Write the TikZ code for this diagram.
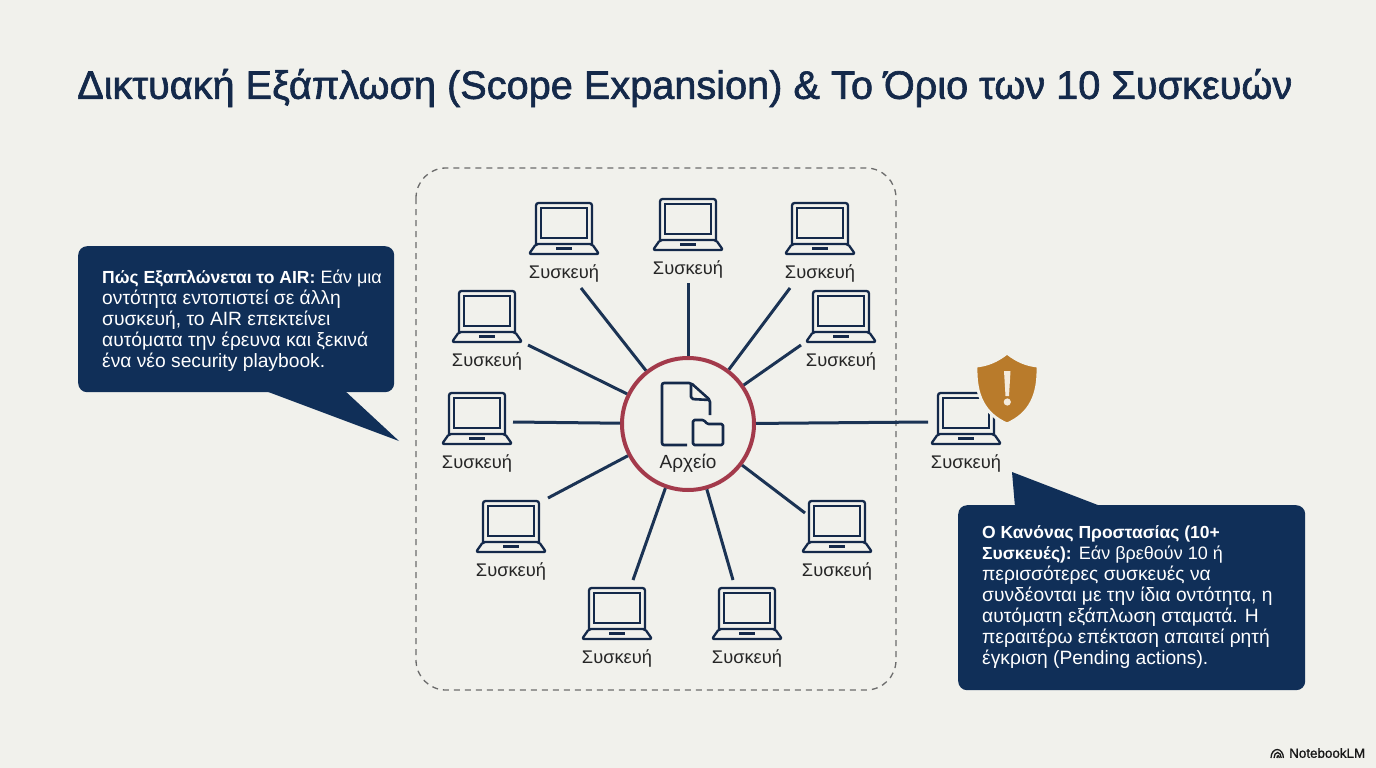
\documentclass[tikz,border=0pt]{standalone}
\usepackage{fontspec}
\usepackage{xcolor}
\setmainfont{Liberation Sans}
\newfontfamily\titlefont[FakeBold=1.6]{Liberation Sans}
\newfontfamily\brandfont[FakeBold=1.2]{Liberation Sans}
\usetikzlibrary{arrows.meta,positioning,calc}
\definecolor{paper}{HTML}{F1F1EC}
\definecolor{navy}{HTML}{102F58}
\definecolor{inkblue}{HTML}{14294A}
\definecolor{spokeblue}{HTML}{1B3354}
\definecolor{ringred}{HTML}{A33A4B}
\definecolor{amber}{HTML}{B97B2B}
\definecolor{cream}{HTML}{F4EBDC}
\newcommand{\leadin}[1]{{\fontsize{17.5}{21}\selectfont\bfseries #1}}
\newcommand{\leadrest}[1]{{\fontsize{18}{21}\selectfont #1}}
\tikzset{
  laptop/.pic={
    \draw[line width=2.3pt,inkblue,rounded corners=2.5pt] (-28,14) -- (-28,-27) -- (28,-27) -- (28,14);
    \draw[line width=2.1pt,inkblue] (-23,8) rectangle (23,-22);
    \draw[line width=2.3pt,inkblue,line join=round,rounded corners=2pt] (-28,14) -- (28,14) -- (35,24) -- (-35,24) -- cycle;
    \draw[line width=2.1pt,inkblue] (-8,18.5) -- (8,18.5);
  }
}
\begin{document}
\begin{tikzpicture}[x=1pt,y=-1pt,>=Latex]
  \tikzstyle{devlabel}=[inner sep=0pt,text=black!85,font=\fontsize{18.3}{20}\selectfont]
  \tikzstyle{spoke}=[line width=3pt,spokeblue]
  \tikzstyle{callout}=[fill=navy,rounded corners=9pt,inner sep=0pt,anchor=north west]
  \tikzstyle{callouttext}=[text=white,align=left,anchor=north west,inner sep=0pt,font=\fontsize{19.25}{21}\selectfont]
  \useasboundingbox[fill=paper] (0,0) rectangle (1376,768);
  \node[anchor=west,inner sep=0pt,text=inkblue,font=\titlefont\fontsize{39.7}{42}\selectfont] (title) at (77,88) {Δικτυακή Εξάπλωση (Scope Expansion) \& Το Όριο των 10 Συσκευών};
  \draw[gray!85!black,line width=1.3pt,dash pattern=on 6pt off 5pt,rounded corners=30pt] (416,168) rectangle (896,690);
  \node[circle,draw=ringred,line width=4pt,minimum size=132pt,inner sep=0pt] (file) at (688,424) {};
  \foreach \id/\x/\y/\ex/\ey in {1/564/230/581/288,2/688/226/688/283,3/820/230/790/288,4/487/318/528/345,5/841/318/801/345,6/477/420/513/422,7/966/420/928/422,8/511/528/548/498,9/837/528/805/513,10/617/615/633/580,11/747/615/733/580}{
    \pic at (\x,\y) {laptop};
    \node[devlabel] (dev\id) at ($(\x,\y)+(0,43)$) {Συσκευή};
    \coordinate (end\id) at (\ex,\ey);
    \draw[spoke] (end\id) -- (file);
  }
  \draw[line width=2.6pt,inkblue,line join=round,rounded corners=2pt] (687,445) -- (662,445) -- (662,383) -- (691,383) -- (710,400) -- (710,415);
  \draw[line width=2.6pt,inkblue,line join=round,rounded corners=2pt] (691,383) -- (691,399) -- (710,400);
  \draw[line width=2.6pt,inkblue,line join=round,rounded corners=1.5pt] (693,445) -- (693,420) -- (704,420) -- (707,424) -- (723,424) -- (723,445) -- cycle;
  \node[devlabel,font=\fontsize{19}{21}\selectfont] (filelabel) at (688,463) {Αρχείο};
  \fill[amber,draw=paper,line width=3pt] (1007,353) .. controls (1017,361) and (1027,365) .. (1038,366) .. controls (1039,395) and (1030,414) .. (1007,424) .. controls (984,414) and (975,395) .. (976,366) .. controls (987,365) and (997,361) .. (1007,353) -- cycle;
  \fill[cream] (1004,371) -- (1010.5,371) -- (1009,396) -- (1005.5,396) -- cycle;
  \fill[cream] (1007.3,402) circle (3.6);
  \coordinate (tailA) at (399,441);
  \coordinate (tailB) at (1012,472);
  \fill[navy] (263,390) -- (tailA) -- (344,390) -- cycle;
  \fill[navy] (1015,507) -- (tailB) -- (1103,507) -- cycle;
  \node[callout,minimum width=316pt,minimum height=146pt] (howbox) at (78,246) {};
  \node[callout,minimum width=347pt,minimum height=185pt] (rulebox) at (958,505) {};
  \node[callouttext] (howtext) at (102,270) {\leadin{Πώς Εξαπλώνεται το AIR:} \leadrest{Εάν μια}\\οντότητα εντοπιστεί σε άλλη\\συσκευή, το AIR επεκτείνει\\αυτόματα την έρευνα και ξεκινά\\ένα νέο security playbook.};
  \node[callouttext] (ruletext) at (982,525.5) {\leadin{Ο Κανόνας Προστασίας (10+}\\\leadin{Συσκευές):} \leadrest{Εάν βρεθούν 10 ή}\\περισσότερες συσκευές να\\συνδέονται με την ίδια οντότητα, η\\αυτόματη εξάπλωση σταματά. Η\\περαιτέρω επέκταση απαιτεί ρητή\\έγκριση (Pending actions).};
  \node[anchor=west,inner sep=0pt,text=black!90,font=\brandfont\fontsize{13.4}{15}\selectfont] (brand) at (1289,753) {NotebookLM};
  \draw[line width=1.3pt,black!90] (1271,758) arc (180:360:6.2 and 8.5);
  \draw[line width=1.3pt,black!90] (1274,758) arc (180:360:3.6 and 5.5);
  \draw[line width=1.3pt,black!90] (1277,758) arc (180:360:1.1 and 2.4);
\end{tikzpicture}
\end{document}
